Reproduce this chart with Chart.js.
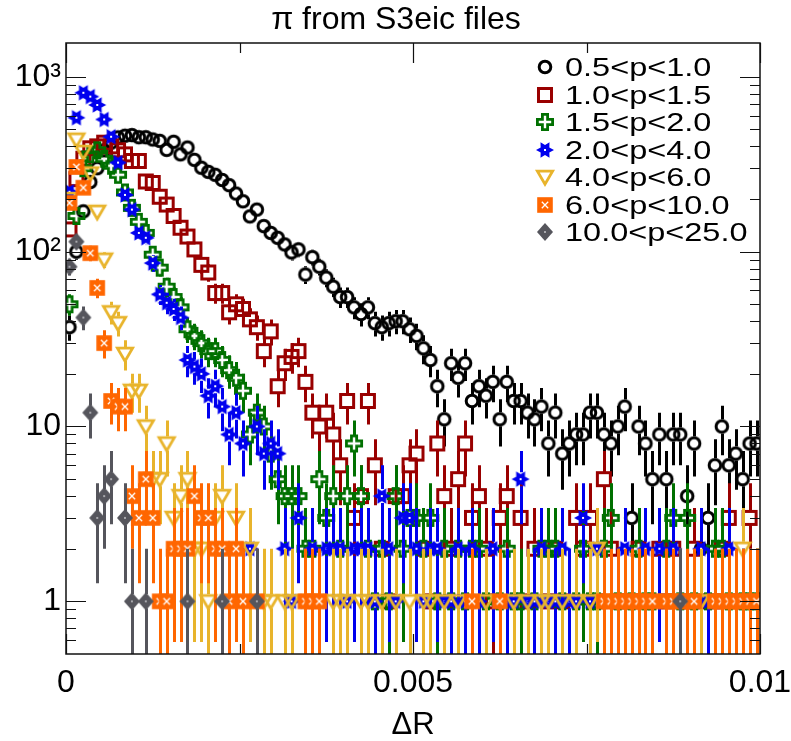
<!DOCTYPE html>
<html>
<head>
<meta charset="utf-8">
<script src="https://cdn.jsdelivr.net/npm/chart.js@4.4.0/dist/chart.umd.min.js"></script>
<style>
  html, body { margin: 0; padding: 0; background: #ffffff; }
  canvas { display: block; }
</style>
</head>
<body>
<canvas id="c" width="791" height="741"></canvas>
<script>
// ---------------- data (counts per ΔR bin, 100 bins of width 0.0001 from 0 to 0.01) ----------------
const _ = null;
const nBins = 100;
const binWidth = 0.0001;
const binCenters = Array.from({length: nBins}, (v, i) => +((i + 0.5) * binWidth).toFixed(5));

const seriesLabels = ['0.5<p<1.0', '1.0<p<1.5', '1.5<p<2.0', '2.0<p<4.0', '4.0<p<6.0', '6.0<p<10.0', '10.0<p<25.0'];

const p05_10 = [37,100,170,250,300,380,420,450,460,464,
  451,451,438,430,382,425,360,394,335,302,
  286,275,257,240,215,194,159,174,140,128,
  120,110,99,103,74,93,82,71,63,55,
  55,48,44,48,39,37,39,40,40,36,
  33,28,24,17,11,23,19,23,14,17,
  15,18,11,18,14,14,12,11,13,8,
  12,7,8,9,9,12,12,9,8,10,
  13,3,10,8,5,9,5,9,9,4,
  8,2,3,6,10,6,7,5,8,8];

const p10_15 = [134,260,340,390,400,420,400,380,360,330,
  330,252,247,206,186,160,137,122,103,84,
  76,58,58,45,50,47,41,37,27,35,
  17,23,25,27,18,12,10,12,9,6,
  14,3,4,14,6,2,1,4,4,6,
  7,2,1,8,4,2,5,8,3,4,
  2,1,3,4,_,3,1,2,_,1,
  2,1,_,3,2,3,1,5,2,1,
  _,1,2,1,_,2,1,2,_,1,
  2,1,_,1,2,3,1,_,3,1];

const p15_20 = [50,160,300,360,380,340,310,275,218,178,
  148,128,96,81,63,55,48,36,33,30,
  27,27,24,21,19,16,9,12,10,7,
  5,4,4,4,2,2,5,3,4,2,
  4,8,4,2,1,2,1,4,2,3,
  3,2,3,1,2,1,2,1,2,2,
  1,_,1,2,1,1,_,1,2,2,
  2,1,_,1,2,1,1,2,3,1,
  _,1,2,1,1,_,2,3,1,3,
  1,_,1,2,2,1,_,1,1,1];

const p20_40 = [220,583,810,770,690,570,454,323,211,174,
  128,120,86,57,51,47,42,24,22,20,
  15,17,13,9,12,8,2,10,7,8,
  7,2,1,3,1,2,1,2,2,2,
  1,2,2,2,1,4,2,1,3,3,
  2,1,2,2,1,1,2,1,2,1,
  _,2,1,1,1,5,1,1,2,1,
  1,2,1,1,3,1,2,_,1,1,
  2,1,_,2,1,2,1,2,1,_,
  1,2,1,1,1,2,_,1,1,_];

const p40_60 = [200,437,372,280,169,90,45,39,26,16,
  16,10,5,5,8,3,4,5,2,2,
  1,3,4,1,3,1,2,_,1,1,
  _,1,1,_,1,1,1,_,1,1,
  1,_,1,1,_,1,_,1,_,1,
  _,1,1,_,1,_,1,_,1,_,
  1,_,1,_,1,_,1,_,1,1,
  _,1,_,1,_,1,2,1,_,1,
  _,1,1,_,1,_,1,_,1,_,
  1,1,_,1,1,_,1,2,1,1];

const p60_100 = [190,305,232,98,62,30,14,13,13,4,
  3,5,3,1,1,2,2,2,4,3,
  3,2,2,1,2,1,_,1,_,_,
  _,_,_,_,1,1,1,_,_,_,
  _,_,_,_,_,_,_,_,_,_,
  _,_,_,_,_,_,_,_,1,_,
  _,_,1,_,_,_,_,_,_,_,
  _,_,_,_,_,_,_,1,1,1,
  1,1,1,1,1,_,1,1,1,1,
  1,_,_,1,1,1,1,1,1,1];

const p100_250 = [82,114,42,12,3,4,5,_,3,1,
  _,1,_,_,_,_,_,1,_,_,
  _,_,1,_,_,_,_,1,_,_,
  _,_,_,_,_,_,_,_,_,_,
  _,_,_,_,_,_,_,_,_,_,
  _,_,_,_,_,_,_,_,_,_,
  _,_,_,_,_,_,_,_,_,_,
  _,_,_,_,_,_,_,_,_,_,
  _,_,_,_,_,_,_,_,1,_,
  _,_,_,_,_,_,_,_,_,_];

const xTickValues = [0, 0.0025, 0.005, 0.0075, 0.01];
const xTickLabels = ['0', '', '0.005', '', '0.01'];
const yMajorTicks = [1, 10, 100, 1000];
const yMajorLabels = ['1', '10', '10\u00B2', '10\u00B3'];
const yMinorTicks = [0.6, 0.7, 0.8, 0.9, 2, 3, 4, 5, 6, 7, 8, 9, 20, 30, 40, 50, 60, 70, 80, 90, 200, 300, 400, 500, 600, 700, 800, 900];

// ---------------- styles ----------------
const colors = ['#000000', '#990000', '#007000', '#0000ee', '#e8b42c', '#ff6600', '#55555c'];
const markerKinds = ['circle', 'square', 'cross', 'star', 'tridown', 'squarex', 'diamond'];
const FONT = '"Liberation Sans", Arial, Helvetica, sans-serif';

function makeMarker(kind, color) {
  const S = 24, c = S / 2;
  const cv = document.createElement('canvas');
  cv.width = S; cv.height = S;
  const g = cv.getContext('2d');
  g.strokeStyle = color; g.fillStyle = color; g.lineJoin = 'miter';
  g.lineWidth = 3;
  g.beginPath();
  if (kind === 'circle') {
    g.arc(c, c, 5.8, 0, Math.PI * 2); g.stroke();
  } else if (kind === 'square') {
    g.rect(c - 6.5, c - 6.5, 13, 13); g.stroke();
  } else if (kind === 'cross') {
    const h = 7.6, a = 2.6;
    const pts = [[-a,-h],[a,-h],[a,-a],[h,-a],[h,a],[a,a],[a,h],[-a,h],[-a,a],[-h,a],[-h,-a],[-a,-a]];
    pts.forEach((p, i) => i ? g.lineTo(c + p[0], c + p[1]) : g.moveTo(c + p[0], c + p[1]));
    g.closePath(); g.lineWidth = 2.8; g.stroke();
  } else if (kind === 'star') {
    const ro = 9, ri = 5;
    for (let k = 0; k < 12; k++) {
      const r = k % 2 ? ri : ro;
      const ang = (k * 30) * Math.PI / 180;
      const px = c + r * Math.cos(ang), py = c + r * Math.sin(ang);
      k ? g.lineTo(px, py) : g.moveTo(px, py);
    }
    g.closePath(); g.fill();
    g.fillStyle = '#ffffff';
    g.fillRect(c - 1, c - 1, 2, 2);
  } else if (kind === 'tridown') {
    g.moveTo(c - 7.6, c - 5.8); g.lineTo(c + 7.6, c - 5.8); g.lineTo(c, c + 7.2); g.closePath();
    g.lineWidth = 2.8; g.stroke();
  } else if (kind === 'squarex') {
    g.fillRect(c - 7.8, c - 7.8, 15.6, 15.6);
    g.strokeStyle = '#ffffff'; g.lineWidth = 1.3;
    g.beginPath();
    g.moveTo(c - 3.2, c - 3.2); g.lineTo(c + 3.2, c + 3.2);
    g.moveTo(c + 3.2, c - 3.2); g.lineTo(c - 3.2, c + 3.2);
    g.stroke();
  } else if (kind === 'diamond') {
    g.moveTo(c, c - 9); g.lineTo(c + 8, c); g.lineTo(c, c + 9); g.lineTo(c - 8, c); g.closePath(); g.fill();
    g.fillStyle = '#ffffff';
    g.fillRect(c - 0.7, c - 0.7, 1.4, 1.4);
  }
  return cv;
}

const seriesValues = [p05_10, p10_15, p15_20, p20_40, p40_60, p60_100, p100_250];
const markers = markerKinds.map((k, i) => makeMarker(k, colors[i]));

// Datasets: index 0 is drawn on top in Chart.js, so list them in reverse (ROOT draws 0.5<p<1.0 first)
const datasets = seriesValues.map((vals, s) => ({
  label: seriesLabels[s],
  data: binCenters.map((x, i) => ({x: x, y: vals[i]})).filter(p => p.y !== null),
  showLine: false,
  pointStyle: markers[s],
  pointRadius: 8,
  pointHoverRadius: 8,
  borderColor: colors[s],
  backgroundColor: colors[s]
})).reverse();

// ---------------- plugins ----------------
const errorBars = {
  id: 'errorBars',
  beforeDatasetDraw(chart, args) {
    const ds = chart.data.datasets[args.index];
    const xs = chart.scales.x, ys = chart.scales.y, ca = chart.chartArea;
    const ctx = chart.ctx;
    ctx.save();
    ctx.beginPath(); ctx.rect(ca.left, ca.top, ca.right - ca.left, ca.bottom - ca.top); ctx.clip();
    ctx.strokeStyle = ds.borderColor; ctx.lineWidth = 3; ctx.lineCap = 'butt';
    const gap = 7;
    ds.data.forEach(p => {
      const e = Math.sqrt(p.y);
      const px = Math.round(xs.getPixelForValue(p.x)) + 0.5;
      const py = ys.getPixelForValue(p.y);
      const top = ys.getPixelForValue(p.y + e);
      const lo = p.y - e;
      const bot = lo > 0 ? Math.min(ys.getPixelForValue(lo), ca.bottom) : ca.bottom;
      ctx.beginPath();
      if (py - gap > top) { ctx.moveTo(px, top); ctx.lineTo(px, py - gap); }
      if (bot > py + gap) { ctx.moveTo(px, py + gap); ctx.lineTo(px, bot); }
      ctx.stroke();
    });
    ctx.restore();
  }
};

const frameAndDecor = {
  id: 'frameAndDecor',
  afterDatasetsDraw(chart) {
    const ctx = chart.ctx, ca = chart.chartArea, xs = chart.scales.x, ys = chart.scales.y;
    ctx.save();
    ctx.strokeStyle = '#111111';
    ctx.lineWidth = 1.5;
    ctx.strokeRect(ca.left, ca.top, ca.right - ca.left, ca.bottom - ca.top);
    ctx.lineWidth = 1.2;
    ctx.beginPath();
    xTickValues.forEach((v, i) => {
      const px = Math.round(xs.getPixelForValue(v)) + 0.5;
      const len = xTickLabels[i] !== '' ? 20 : 10;
      ctx.moveTo(px, ca.bottom); ctx.lineTo(px, ca.bottom - len);
      ctx.moveTo(px, ca.top); ctx.lineTo(px, ca.top + len);
    });
    yMajorTicks.concat(yMinorTicks).forEach(v => {
      const py = Math.round(ys.getPixelForValue(v)) + 0.5;
      if (py < ca.top || py > ca.bottom) return;
      const len = yMajorTicks.includes(v) ? 20 : 10;
      ctx.moveTo(ca.left, py); ctx.lineTo(ca.left + len, py);
      ctx.moveTo(ca.right, py); ctx.lineTo(ca.right - len, py);
    });
    ctx.stroke();
    ctx.restore();
  },
  afterDraw(chart) {
    const ctx = chart.ctx;
    ctx.save();
    // title
    ctx.fillStyle = '#000000';
    ctx.font = '32px ' + FONT;
    ctx.textAlign = 'center';
    ctx.textBaseline = 'alphabetic';
    ctx.fillText('\u03C0 from S3eic files', 396, 29);
    // legend (ROOT order: first histogram first)
    const legendX = 545, textX = 565, firstY = 67, step = 27.5;
    seriesLabels.forEach((lab, s) => {
      const y = firstY + s * step;
      const m = markers[s];
      ctx.drawImage(m, Math.round(legendX - m.width / 2), Math.round(y - m.height / 2));
      ctx.save();
      ctx.translate(textX, y + 9);
      ctx.scale(1.3, 1);
      ctx.font = '25px ' + FONT;
      ctx.textAlign = 'left';
      ctx.textBaseline = 'alphabetic';
      ctx.fillText(lab, 0, 0);
      ctx.restore();
    });
    ctx.restore();
  }
};

// ---------------- chart ----------------
new Chart(document.getElementById('c'), {
  type: 'scatter',
  data: { datasets: datasets },
  options: {
    responsive: false,
    animation: false,
    devicePixelRatio: 1,
    layout: { padding: { top: 43, right: 31, bottom: 0, left: 0 } },
    plugins: {
      legend: { display: false },
      tooltip: { enabled: false },
      title: { display: false }
    },
    scales: {
      x: {
        type: 'linear',
        min: 0, max: 0.01,
        afterBuildTicks: (scale) => { scale.ticks = xTickValues.map(v => ({value: v})); },
        afterFit: (scale) => { scale.height = 87; scale.paddingLeft = 0; scale.paddingRight = 0; },
        grid: { display: false, drawTicks: false },
        border: { display: false },
        ticks: {
          autoSkip: false, maxRotation: 0, padding: 10, color: '#000000',
          font: { family: FONT, size: 32 },
          callback: (v, i) => xTickLabels[i]
        },
        title: { display: true, text: '\u0394R', color: '#000000', font: { family: FONT, size: 31 }, padding: { top: 0, bottom: -3 } }
      },
      y: {
        type: 'logarithmic',
        min: 0.5, max: 1560,
        afterBuildTicks: (scale) => {
          scale.ticks = yMajorTicks.concat(yMinorTicks).sort((a, b) => a - b).map(v => ({value: v, major: yMajorTicks.includes(v)}));
        },
        afterFit: (scale) => { scale.width = 66; scale.paddingTop = 0; scale.paddingBottom = 0; },
        grid: { display: false, drawTicks: false },
        border: { display: false },
        ticks: {
          autoSkip: false, padding: 5, color: '#000000',
          font: { family: FONT, size: 32 },
          callback: (v) => { const k = yMajorTicks.indexOf(v); return k >= 0 ? yMajorLabels[k] : ''; }
        }
      }
    }
  },
  plugins: [errorBars, frameAndDecor]
});
</script>
</body>
</html>
